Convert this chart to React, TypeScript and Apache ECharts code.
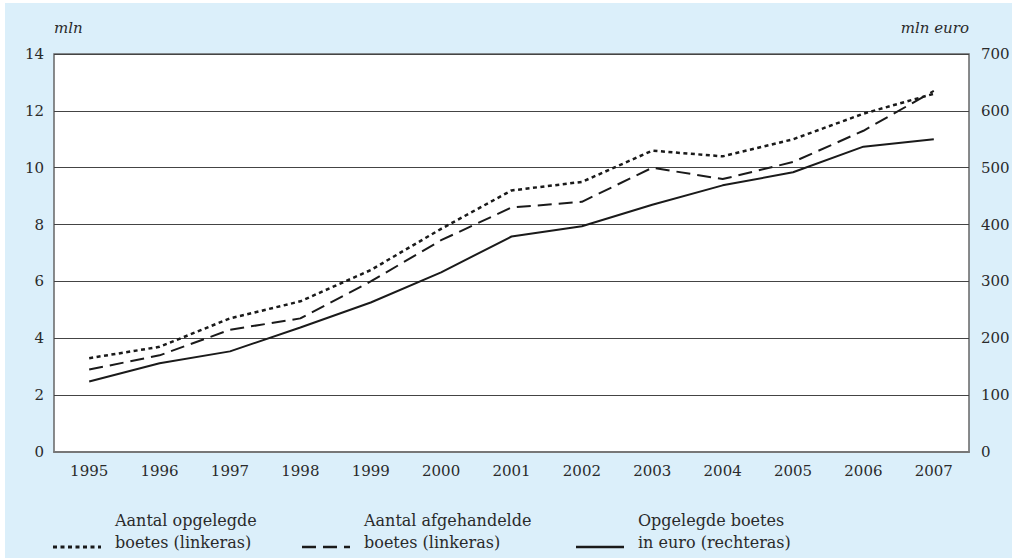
import React, { useEffect, useRef } from "react";
import * as echarts from "echarts";

const years = ["1995","1996","1997","1998","1999","2000","2001","2002","2003","2004","2005","2006","2007"];
const opgelegdAantal = [3.3, 3.7, 4.7, 5.3, 6.4, 7.85, 9.2, 9.5, 10.6, 10.4, 11.0, 11.9, 12.6];
const afgehandeldAantal = [2.9, 3.4, 4.3, 4.7, 6.0, 7.45, 8.6, 8.8, 10.0, 9.6, 10.2, 11.3, 12.7];
const opgelegdEuro = [124, 156, 177, 219, 263, 316, 379, 397, 435, 469, 492, 537, 550];
const seriesNames = [
  "Aantal opgelegde\nboetes (linkeras)",
  "Aantal afgehandelde\nboetes (linkeras)",
  "Opgelegde boetes\nin euro (rechteras)",
];
const leftUnit = "mln";
const rightUnit = "mln euro";

const FONT = "DejaVu Serif";
const TXT = "#2a2a2a";

export default function App() {
  const ref = useRef<HTMLDivElement>(null);
  useEffect(() => {
    if (!ref.current) return;
    const chart = echarts.init(ref.current, undefined, { renderer: "svg" });
    const styles = [
      { type: [4, 3.5], width: 2.5 },
      { type: [14, 7], width: 2 },
      { type: "solid", width: 2 },
    ];
    const legendX = [53, 302, 576];
    const legendGraphics: any[] = [];
    seriesNames.forEach((name, i) => {
      legendGraphics.push({
        type: "line",
        shape: { x1: legendX[i], y1: 547, x2: legendX[i] + 48, y2: 547 },
        style: { stroke: "#1a1a1a", lineWidth: styles[i].width + 0.5, lineDash: styles[i].type === "solid" ? null : styles[i].type },
      });
      legendGraphics.push({
        type: "text",
        x: legendX[i] + 62,
        y: 509,
        style: { text: name, font: `16px '${FONT}'`, fill: TXT, lineHeight: 22 },
      });
    });
    chart.setOption({
      animation: false,
      backgroundColor: "#ffffff",
      graphic: [
        { type: "rect", shape: { x: 5, y: 3, width: 1007, height: 560 }, style: { fill: "#dbeffa" }, z: -10 },
        { type: "text", x: 54, y: 20, style: { text: leftUnit, font: `italic 15px '${FONT}'`, fill: TXT } },
        { type: "text", x: 969, y: 20, style: { text: rightUnit, font: `italic 15px '${FONT}'`, fill: TXT, align: "right" } },
        ...legendGraphics,
      ],
      grid: {
        left: 54, right: 46, top: 54, bottom: 106,
        show: true, backgroundColor: "#ffffff", borderColor: "#666", borderWidth: 1.5,
      },
      xAxis: {
        type: "category",
        data: years,
        boundaryGap: true,
        axisLine: { lineStyle: { color: "#777", width: 2 } },
        axisTick: { alignWithLabel: true, length: 5, lineStyle: { color: "#555" } },
        axisLabel: { fontFamily: FONT, fontSize: 15, color: TXT, margin: 11 },
      },
      yAxis: [
        {
          type: "value", min: 0, max: 14, interval: 2,
          axisLine: { show: false }, axisTick: { show: false },
          splitLine: { lineStyle: { color: "#444", width: 1 } },
          axisLabel: { fontFamily: FONT, fontSize: 15, color: TXT, margin: 10 },
        },
        {
          type: "value", min: 0, max: 700, interval: 100, position: "right",
          axisLine: { show: false }, axisTick: { show: false },
          splitLine: { show: false },
          axisLabel: { fontFamily: FONT, fontSize: 15, color: TXT, margin: 12 },
        },
      ],
      series: [
        { name: seriesNames[0], type: "line", data: opgelegdAantal, yAxisIndex: 0, symbol: "none",
          lineStyle: { color: "#1a1a1a", width: styles[0].width, type: styles[0].type as any } },
        { name: seriesNames[1], type: "line", data: afgehandeldAantal, yAxisIndex: 0, symbol: "none",
          lineStyle: { color: "#1a1a1a", width: styles[1].width, type: styles[1].type as any } },
        { name: seriesNames[2], type: "line", data: opgelegdEuro, yAxisIndex: 1, symbol: "none",
          lineStyle: { color: "#1a1a1a", width: styles[2].width, type: "solid" } },
      ],
    });
    return () => chart.dispose();
  }, []);
  return <div ref={ref} style={{ position: "fixed", left: 0, top: 0, width: 1015, height: 558 }} />;
}
